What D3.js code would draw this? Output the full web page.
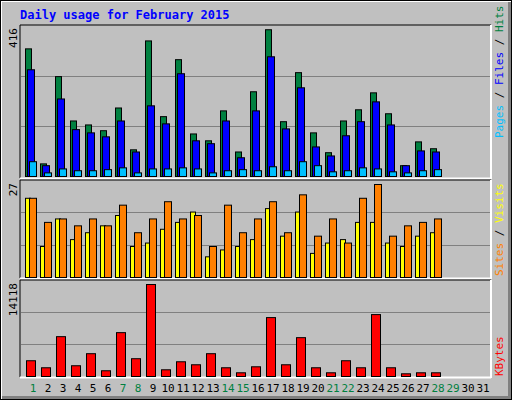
<!DOCTYPE html>
<html>
<head>
<script src="https://cdnjs.cloudflare.com/ajax/libs/d3/7.8.5/d3.min.js"></script>
<style>
  body { margin: 0; background: #fff; }
  text { font-family: "DejaVu Sans Mono", monospace; }
</style>
</head>
<body>
<div id="chart"></div>
<script>
// data
const days = d3.range(1, 32);
const weekendDays = [1, 7, 8, 14, 15, 21, 22, 28, 29];
const hits   = [354, 35, 277, 154, 143, 127, 190, 74, 376, 166, 324, 118, 99, 182, 68, 235, 407, 152, 288, 121, 66, 154, 185, 232, 174, 30, 96, 77];
const files  = [296, 30, 215, 130, 121, 110, 154, 68, 196, 146, 285, 99, 91, 154, 52, 182, 332, 132, 246, 82, 57, 113, 152, 207, 143, 30, 71, 68];
const pages  = [41, 10, 21, 16, 16, 19, 24, 10, 21, 21, 24, 21, 10, 16, 19, 16, 27, 16, 41, 30, 13, 16, 24, 21, 13, 10, 16, 19];
const visits = [23, 9, 17, 11, 13, 15, 18, 9, 10, 14, 16, 19, 6, 8, 9, 11, 20, 12, 19, 7, 10, 11, 16, 16, 10, 9, 12, 13];
const sites  = [23, 16, 17, 15, 17, 15, 21, 13, 17, 22, 17, 18, 9, 21, 13, 17, 22, 13, 24, 12, 17, 10, 23, 27, 12, 15, 16, 17];
const kbytes = [2418, 1340, 6114, 1650, 3500, 880, 6730, 2730, 14118, 1030, 2260, 1800, 3500, 1340, 570, 1490, 9040, 1800, 5960, 1340, 570, 2418, 1340, 9500, 1340, 415, 570, 570];

const W = 512, H = 400;
const svg = d3.select("#chart").append("svg").attr("width", W).attr("height", H);

// window frame
svg.append("rect").attr("x", 0).attr("y", 0).attr("width", W).attr("height", H).attr("fill", "#000");
svg.append("rect").attr("x", 1).attr("y", 1).attr("width", W - 2).attr("height", H - 2).attr("fill", "#fff");
svg.append("rect").attr("x", 2).attr("y", 2).attr("width", W - 3).attr("height", H - 3).attr("fill", "#808080");
svg.append("rect").attr("x", 2).attr("y", 2).attr("width", W - 6).attr("height", H - 6).attr("fill", "#c0c0c0");

svg.append("text").attr("x", 20).attr("y", 19)
  .attr("fill", "#0000ff").style("font-size", "12px").style("font-weight", "bold")
  .text("Daily usage for February 2015");

const x = d3.scaleLinear().domain([1, 31]).range([25, 475]);

// panels
const panels = [
  { top: 25, bottom: 177, max: 416, label: "416" },
  { top: 180, bottom: 277, max: 27, label: "27" },
  { top: 280, bottom: 376, max: 14118, label: "14118" }
];
panels.forEach(p => {
  const g = svg.append("g");
  g.append("line").attr("x1", 20).attr("x2", 491).attr("y1", p.top).attr("y2", p.top).attr("stroke", "#000");
  g.append("line").attr("x1", 20).attr("x2", 20).attr("y1", p.top).attr("y2", p.bottom + 1).attr("stroke", "#000");
  g.append("line").attr("x1", 20).attr("x2", 491).attr("y1", p.bottom + 1.5).attr("y2", p.bottom + 1.5).attr("stroke", "#fff").attr("stroke-width", 2);
  g.append("line").attr("x1", 491).attr("x2", 491).attr("y1", p.top).attr("y2", p.bottom + 2).attr("stroke", "#fff").attr("stroke-width", 2);
  const h = p.bottom - p.top;
  [1, 2].forEach(k => {
    const yy = Math.round(p.bottom - h * k / 3) + 0.5;
    g.append("line").attr("x1", 21).attr("x2", 490).attr("y1", yy).attr("y2", yy).attr("stroke", "#808080");
  });
  g.append("text").attr("transform", `translate(17,${p.top + 3}) rotate(-90)`)
    .attr("text-anchor", "end").style("font-size", "11px").attr("fill", "#000").text(p.label);
});

const y1 = d3.scaleLinear().domain([0, 416]).range([176, 26]);
const y2 = d3.scaleLinear().domain([0, 27]).range([277, 184]);
const y3 = d3.scaleLinear().domain([0, 14118]).range([376, 284]);

function bars(values, y, dx, w, color) {
  svg.append("g").selectAll("rect").data(values).join("rect")
    .attr("x", (d, i) => x(i + 1) + dx + 0.5)
    .attr("y", d => y(d) + 0.5)
    .attr("width", w)
    .attr("height", d => Math.max(0, y(0) - y(d)))
    .attr("fill", color).attr("stroke", "#000");
}
bars(hits, y1, 0, 6, "#008040");
bars(files, y1, 2, 7, "#0000ff");
bars(pages, y1, 4, 7, "#00c0ff");
bars(visits, y2, 0, 5, "#ffff00");
bars(sites, y2, 4, 7, "#ff8000");
bars(kbytes, y3, 1, 9, "#ff0000");

// day labels
svg.append("g").selectAll("text").data(days).join("text")
  .attr("x", d => x(d) + 8).attr("y", 392)
  .attr("text-anchor", "middle").style("font-size", "11px")
  .attr("fill", d => weekendDays.includes(d) ? "#008040" : "#000")
  .text(d => d);

// right-side legends, rotated
function legend(parts, yStart) {
  const t = svg.append("text").attr("transform", `translate(503,${yStart}) rotate(-90)`)
    .style("font-size", "11px");
  parts.forEach(([s, c]) => t.append("tspan").attr("fill", c).text(s));
}
legend([["Pages", "#00c0ff"], [" / ", "#000"], ["Files", "#0000ff"], [" / ", "#000"], ["Hits", "#008040"]], 138);
legend([["Sites", "#ff8000"], [" / ", "#000"], ["Visits", "#ffff00"]], 276);
legend([["KBytes", "#ff0000"]], 376);
</script>
</body>
</html>
